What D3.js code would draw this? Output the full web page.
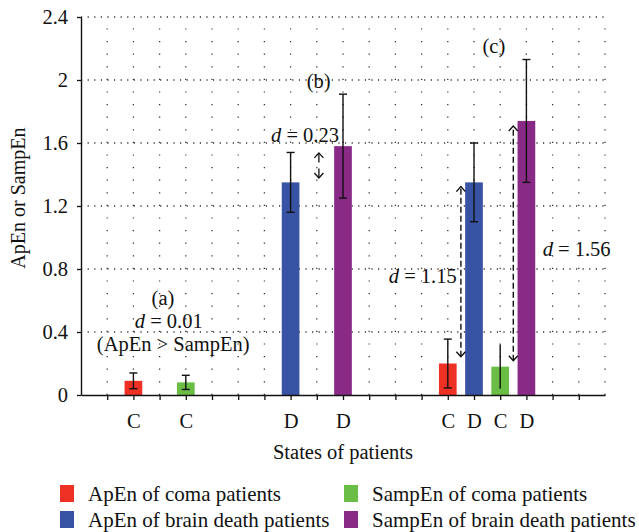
<!DOCTYPE html>
<html>
<head>
<meta charset="utf-8">
<script src="https://cdn.jsdelivr.net/npm/d3@7"></script>
<style>
  body { margin: 0; background: #fff; }
  svg text { font-family: "Liberation Serif", "DejaVu Serif", serif; fill: #111; }
</style>
</head>
<body>
<div id="chart"></div>
<script>
// 資料
const seriesNames = [
  "ApEn of coma patients",
  "ApEn of brain death patients",
  "SampEn of coma patients",
  "SampEn of brain death patients",
];
const seriesColors = ["#ee3124", "#3953a4", "#6abd45", "#8a2a87"];

const barPositions = [2, 4, 8, 10, 14, 15, 16, 17];
const barLabels = ["C", "C", "D", "D", "C", "D", "C", "D"];
const barSeries = [0, 2, 1, 3, 0, 1, 2, 3];
const barMeans = [0.09, 0.08, 1.35, 1.58, 0.2, 1.35, 0.18, 1.74];
const barErrors = [0.05, 0.045, 0.19, 0.33, 0.155, 0.25, 0.14, 0.39];
const barCapped = [true, true, true, true, true, true, false, true];

const yTicks = [0, 0.4, 0.8, 1.2, 1.6, 2, 2.4];

// 註解 (位置為資料座標)
const dashedArrows = [
  { x: 14.5, from: 0.243, to: 1.323 },
  { x: 16.5, from: 0.218, to: 1.708 },
];
const bArrow = { x: 9.08, bottom: 1.378, top: 1.537 };

const width = 639;
const height = 532;

const svg = d3
  .select("#chart")
  .append("svg")
  .attr("width", width)
  .attr("height", height);

const x = d3.scaleLinear().domain([0, 20]).range([81, 605]);
const y = d3.scaleLinear().domain([0, 2.4]).range([395, 17]);
const barWidth = (x(1) - x(0)) * 0.675;

// 格線
svg
  .append("g")
  .selectAll("line")
  .data(yTicks.filter((d) => d > 0))
  .enter()
  .append("line")
  .attr("x1", x(0))
  .attr("x2", x(20))
  .attr("y1", (d) => y(d))
  .attr("y2", (d) => y(d))
  .attr("stroke", "#333")
  .attr("stroke-width", 1.3)
  .attr("stroke-dasharray", "1.2,5.4");

svg
  .append("g")
  .selectAll("line")
  .data(d3.range(1, 21))
  .enter()
  .append("line")
  .attr("x1", (d) => x(d))
  .attr("x2", (d) => x(d))
  .attr("y1", y(0))
  .attr("y2", y(2.4))
  .attr("stroke", "#333")
  .attr("stroke-width", 1.3)
  .attr("stroke-dasharray", "1.2,11.4");

// 長條
barMeans.forEach((value, i) => {
  svg
    .append("rect")
    .attr("x", x(barPositions[i]) - barWidth / 2)
    .attr("y", y(value))
    .attr("width", barWidth)
    .attr("height", y(0) - y(value))
    .attr("fill", seriesColors[barSeries[i]]);
});

// 誤差線
barMeans.forEach((value, i) => {
  const cx = x(barPositions[i]);
  const lo = y(value - barErrors[i]);
  const hi = y(value + barErrors[i]);
  const g = svg.append("g").attr("stroke", "#111").attr("stroke-width", 1.4);
  g.append("line").attr("x1", cx).attr("x2", cx).attr("y1", lo).attr("y2", hi);
  if (barCapped[i]) {
    [lo, hi].forEach((yy) => {
      g.append("line")
        .attr("x1", cx - 4)
        .attr("x2", cx + 4)
        .attr("y1", yy)
        .attr("y2", yy);
    });
  }
});

// 座標軸
const xAxis = svg
  .append("g")
  .attr("transform", `translate(0, ${y(0)})`)
  .call(
    d3
      .axisBottom(x)
      .tickValues(d3.range(1, 20))
      .tickSize(5)
      .tickSizeOuter(0)
      .tickPadding(13)
      .tickFormat((d) => {
        const idx = barPositions.indexOf(d);
        return idx >= 0 ? barLabels[idx] : "";
      })
  );
xAxis.select(".domain").attr("stroke", "#111").attr("stroke-width", 1.4);
xAxis.selectAll(".tick line").attr("stroke", "#111").attr("stroke-width", 1.3);
xAxis.selectAll("text").style("font-size", "20.5px").attr("fill", "#111");

const yAxis = svg
  .append("g")
  .attr("transform", `translate(${x(0)}, 0)`)
  .call(
    d3
      .axisLeft(y)
      .tickValues(yTicks)
      .tickSize(4)
      .tickSizeOuter(0)
      .tickPadding(9)
      .tickFormat((d) => String(d))
  );
yAxis.select(".domain").attr("stroke", "#111").attr("stroke-width", 1.4);
yAxis.selectAll(".tick line").attr("stroke", "#111").attr("stroke-width", 1.3);
yAxis.selectAll("text").style("font-size", "20.5px").attr("fill", "#111");

svg
  .append("text")
  .attr("transform", `translate(25, ${y(1.25)}) rotate(-90)`)
  .attr("text-anchor", "middle")
  .style("font-size", "20px")
  .text("ApEn or SampEn");

svg
  .append("text")
  .attr("x", (x(0) + x(20)) / 2)
  .attr("y", 459)
  .attr("text-anchor", "middle")
  .style("font-size", "20.5px")
  .text("States of patients");

// 箭頭
function arrowHead(g, cx, tipY, dir) {
  // dir = -1 向上, 1 向下
  g.append("path")
    .attr("d", `M${cx - 4.5},${tipY - dir * 5} L${cx},${tipY} L${cx + 4.5},${tipY - dir * 5}`)
    .attr("fill", "none");
}

dashedArrows.forEach((a) => {
  const g = svg.append("g").attr("stroke", "#111").attr("stroke-width", 1.4);
  g.append("line")
    .attr("x1", x(a.x))
    .attr("x2", x(a.x))
    .attr("y1", y(a.from))
    .attr("y2", y(a.to))
    .attr("stroke-dasharray", "6,3");
  arrowHead(g, x(a.x), y(a.to), -1);
  arrowHead(g, x(a.x), y(a.from), 1);
});

{
  const g = svg.append("g").attr("stroke", "#111").attr("stroke-width", 1.3);
  const cx = x(bArrow.x);
  const top = y(bArrow.top);
  const bottom = y(bArrow.bottom);
  const mid = (top + bottom) / 2;
  g.append("line").attr("x1", cx).attr("x2", cx).attr("y1", top).attr("y2", mid - 3);
  g.append("line").attr("x1", cx).attr("x2", cx).attr("y1", mid + 3).attr("y2", bottom);
  arrowHead(g, cx, top, -1);
  arrowHead(g, cx, bottom, 1);
}

// 註解文字
function dText(px, py, value, anchor) {
  const t = svg
    .append("text")
    .attr("x", px)
    .attr("y", py)
    .attr("text-anchor", anchor)
    .style("font-size", "20.5px");
  t.append("tspan").style("font-style", "italic").text("d");
  t.append("tspan").text(` = ${value}`);
  return t;
}

svg.append("text").attr("x", x(3.13)).attr("y", y(0.571)).attr("text-anchor", "middle").style("font-size", "20.5px").text("(a)");
dText(x(3.35), y(0.423), "0.01", "middle");
svg.append("text").attr("x", x(3.52)).attr("y", y(0.279)).attr("text-anchor", "middle").style("font-size", "20.5px").text("(ApEn > SampEn)");

svg.append("text").attr("x", x(9.07)).attr("y", y(1.949)).attr("text-anchor", "middle").style("font-size", "20.5px").text("(b)");
dText(x(8.55), y(1.606), "0.23", "middle");

svg.append("text").attr("x", x(15.76)).attr("y", y(2.171)).attr("text-anchor", "middle").style("font-size", "20.5px").text("(c)");
dText(x(14.34), y(0.713), "1.15", "end");
dText(x(17.62), y(0.883), "1.56", "start");

// 圖例
const legendCols = [60, 344];
const legendRows = [485, 511];
seriesNames.forEach((name, i) => {
  const col = i < 2 ? 0 : 1;
  const row = i % 2;
  svg
    .append("rect")
    .attr("x", legendCols[col])
    .attr("y", legendRows[row])
    .attr("width", 14)
    .attr("height", 17)
    .attr("fill", seriesColors[i]);
  svg
    .append("text")
    .attr("x", legendCols[col] + 28)
    .attr("y", legendRows[row] + 15.5)
    .style("font-size", "21px")
    .text(name);
});
</script>
</body>
</html>
